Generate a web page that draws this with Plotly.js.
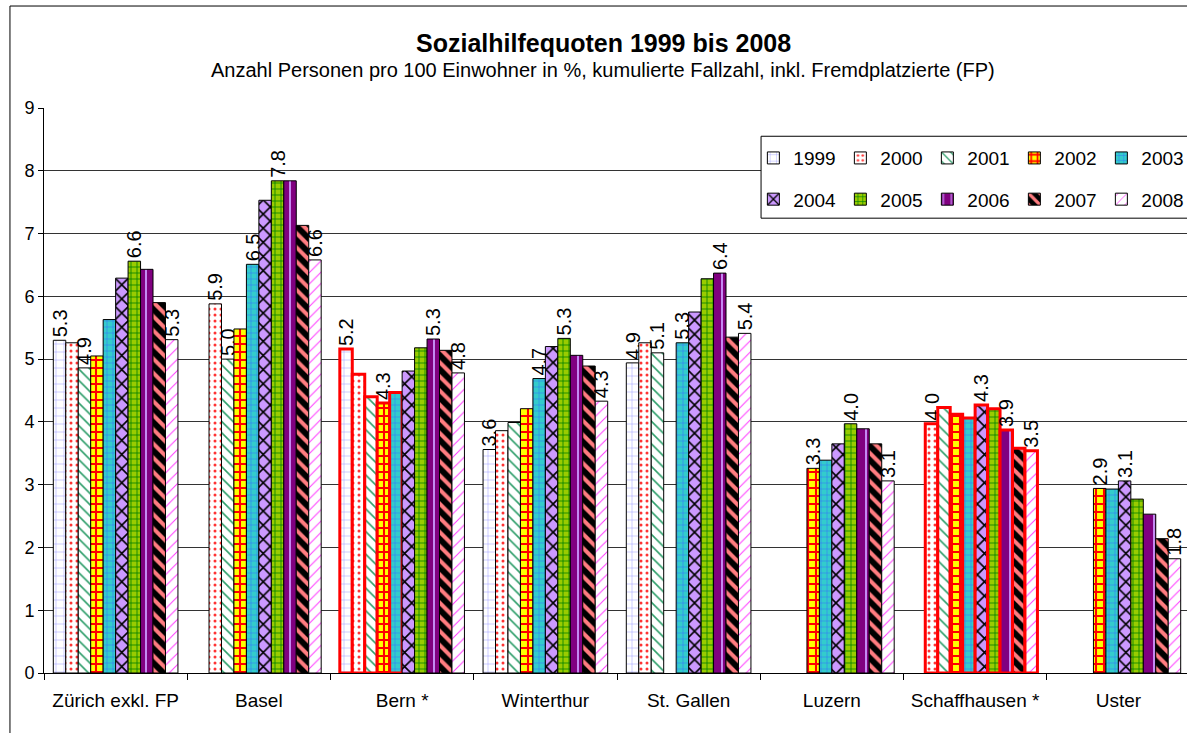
<!DOCTYPE html>
<html>
<head>
<meta charset="utf-8">
<script src="https://cdn.plot.ly/plotly-3.0.1.min.js"></script>
<style>
  html, body { margin: 0; padding: 0; overflow: hidden; background: #fff; }
  #chart { width: 1190px; height: 733px; }
</style>
</head>
<body>
<div id="chart"></div>
<script>
// Staedte (Kategorien)
const cities = ["Zürich exkl. FP", "Basel", "Bern *", "Winterthur", "St. Gallen", "Luzern", "Schaffhausen *", "Uster"];
const years = [1999, 2000, 2001, 2002, 2003, 2004, 2005, 2006, 2007, 2008];

// Sozialhilfequote in % pro Jahr, Reihenfolge wie cities (null = keine Angabe)
const q1999 = [5.30, null, 5.16, 3.56, 4.94, null, null, null];
const q2000 = [5.26, 5.88, 4.76, 3.86, 5.26, null, 3.97, null];
const q2001 = [4.86, 5.00, 4.40, 3.99, 5.10, null, 4.23, null];
const q2002 = [5.05, 5.48, 4.30, 4.21, null, 3.26, 4.12, 2.94];
const q2003 = [5.63, 6.51, 4.47, 4.69, 5.26, 3.39, 4.06, 2.93];
const q2004 = [6.29, 7.53, 4.81, 5.20, 5.75, 3.65, 4.27, 3.06];
const q2005 = [6.56, 7.84, 5.18, 5.33, 6.28, 3.97, 4.21, 2.77];
const q2006 = [6.43, 7.84, 5.32, 5.06, 6.37, 3.89, 3.87, 2.53];
const q2007 = [5.90, 7.13, 5.14, 4.89, 5.35, 3.65, 3.58, 2.14];
const q2008 = [5.31, 6.58, 4.78, 4.33, 5.41, 3.06, 3.54, 1.82];
const values = [q1999, q2000, q2001, q2002, q2003, q2004, q2005, q2006, q2007, q2008];

// welche Balken eine Beschriftung tragen (Index in cities)
const labelled = [
  [0, 2, 3, 4],
  [1, 6],
  [0, 1, 4],
  [2, 5, 7],
  [1, 3, 4],
  [6, 7],
  [0, 1, 3, 5],
  [2, 4, 6],
  [],
  [0, 1, 2, 3, 4, 5, 6, 7]
];

// Balken mit rotem Rahmen: Bern 1999-2003, Schaffhausen alle Jahre
function isRed(yearIdx, cityIdx) {
  if (cityIdx === 6) return true;
  if (cityIdx === 2 && yearIdx <= 4) return true;
  return false;
}

// Fuellmuster je Jahr (Excel-Stil nachgebaut)
const patterns = [
  { bg: "#ffffff", fg: "#9999ff", shape: "+", size: 8, sol: 0.12 },
  { bg: "#ffffff", fg: "#ff3333", shape: ".", size: 6, sol: 0.2 },
  { bg: "#ffffff", fg: "#2e9e6a", shape: "\\", size: 8, sol: 0.2 },
  { bg: "#ffff00", fg: "#ff0000", shape: "+", size: 8, sol: 0.45 },
  { bg: "#33cccc", fg: "#3366ff", shape: "+", size: 6, sol: 0.15 },
  { bg: "#cc99ff", fg: "#000000", shape: "x", size: 10, sol: 0.3 },
  { bg: "#99cc00", fg: "#008000", shape: "+", size: 6, sol: 0.25 },
  { bg: "#800080", fg: "#cc99ff", shape: "|", size: 12, sol: 0.15 },
  { bg: "#000000", fg: "#ff7c80", shape: "\\", size: 10, sol: 0.4 },
  { bg: "#ffffff", fg: "#ff33ff", shape: "/", size: 8, sol: 0.12 }
];

const font = "Liberation Sans, Arial, sans-serif";

const traces = years.map((yr, i) => {
  const p = patterns[i];
  return {
    type: "bar",
    name: String(yr),
    x: cities,
    y: values[i],
    legend: i < 5 ? "legend" : "legend2",
    text: values[i].map((v, c) => (v !== null && labelled[i].includes(c)) ? v.toFixed(1) : ""),
    textposition: "outside",
    textangle: -90,
    constraintext: "none",
    cliponaxis: false,
    textfont: { family: font, size: 20, color: "#000" },
    marker: {
      color: p.bg,
      pattern: { shape: p.shape, bgcolor: p.bg, fgcolor: p.fg, size: p.size, solidity: p.sol, fillmode: "replace" },
      line: {
        color: cities.map((_, c) => isRed(i, c) ? "#ff0000" : "#000000"),
        width: cities.map((_, c) => isRed(i, c) ? 3 : 1)
      }
    }
  };
});

const legendBase = {
  orientation: "h",
  xanchor: "left",
  yanchor: "top",
  bgcolor: "rgba(0,0,0,0)",
  borderwidth: 0,
  font: { family: font, size: 19, color: "#000" },
  itemwidth: 30,
  entrywidth: 42,
  traceorder: "normal"
};

const layout = {
  width: 1190,
  height: 733,
  margin: { l: 44, r: 0, t: 108, b: 60, autoexpand: false },
  paper_bgcolor: "#fff",
  plot_bgcolor: "#fff",
  font: { family: font, color: "#000" },
  barmode: "group",
  bargap: 0.13,
  bargroupgap: 0,
  xaxis: {
    type: "category",
    tickson: "boundaries",
    ticks: "outside",
    ticklen: 6,
    tickcolor: "#000",
    tickangle: 0,
    ticklabelstandoff: 10,
    showline: true,
    linecolor: "#000",
    tickfont: { family: font, size: 19 },
    showgrid: false
  },
  yaxis: {
    range: [0, 9],
    dtick: 1,
    ticks: "outside",
    ticklen: 5,
    tickcolor: "#000",
    showline: true,
    linecolor: "#000",
    gridcolor: "#333",
    zeroline: false,
    tickfont: { family: font, size: 18 }
  },
  legend: Object.assign({}, legendBase, { x: 0.619, y: 0.945 }),
  legend2: Object.assign({}, legendBase, { x: 0.619, y: 0.872 }),
  shapes: [
    { type: "rect", xref: "paper", yref: "paper", x0: 0.6257, x1: 1.05, y0: 0.805, y1: 0.950,
      fillcolor: "#fff", line: { color: "#000", width: 1 }, layer: "above" },
    { type: "rect", xref: "paper", yref: "paper", x0: -0.0297, x1: 1.05, y0: -0.3, y1: 1.1805,
      fillcolor: "rgba(0,0,0,0)", line: { color: "#000", width: 1 }, layer: "above" }
  ],
  annotations: [
    { text: "<b>Sozialhilfequoten 1999 bis 2008</b>", xref: "paper", yref: "paper",
      x: 0.4878, y: 1.115, xanchor: "center", yanchor: "middle", showarrow: false,
      font: { family: font, size: 25, color: "#000" } },
    { text: "Anzahl Personen pro 100 Einwohner in %, kumulierte Fallzahl, inkl. Fremdplatzierte (FP)",
      xref: "paper", yref: "paper", x: 0.4878, y: 1.067, xanchor: "center", yanchor: "middle",
      showarrow: false, font: { family: font, size: 20, color: "#000" } }
  ]
};

Plotly.newPlot("chart", traces, layout, { staticPlot: true });
</script>
</body>
</html>
